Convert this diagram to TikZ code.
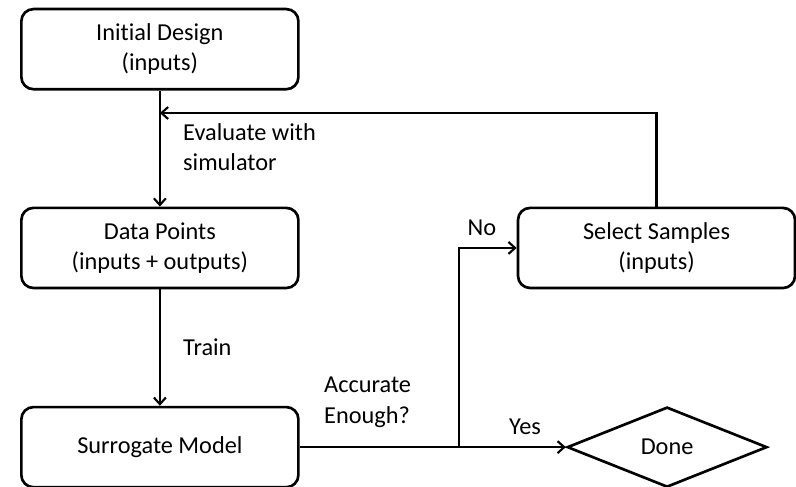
\documentclass[tikz,border=0pt]{standalone}
\usepackage{fontspec}
\setmainfont{Carlito}[Ligatures=NoCommon]
\usepackage{tikz}
\usetikzlibrary{arrows.meta, positioning, shapes.geometric}

\begin{document}
\begin{tikzpicture}[
    every node/.style={font=\fontsize{18.3}{23}\selectfont},
    stage/.style={draw, line width=2pt, rectangle, rounded corners=0.32cm, minimum height=2.12cm, minimum width=7.33cm, align=center},
    finish/.style={draw, line width=2pt, diamond, aspect=2.5, minimum width=5.29cm, minimum height=2.12cm, inner sep=0pt},
    note/.style={anchor=west, align=left, inner sep=0pt},
    link/.style={line width=2pt, -{Straight Barb[length=5pt, width=9pt, line width=1.6pt]}}
]
    \useasboundingbox (0, 0) rectangle (21.06, -12.86);

    % Stages
    \node[stage] (init) at (4.23, -1.30) {Initial Design\\(inputs)};
    \node[stage] (data) at (4.23, -6.56) {Data Points\\(inputs + outputs)};
    \node[stage] (surr) at (4.23, -11.83) {Surrogate Model};
    \node[stage] (select) at (17.37, -6.56) {Select Samples\\(inputs)};
    \node[finish] (done) at (17.65, -11.83) {Done};

    \coordinate (split) at (12.14, -11.83);
    \coordinate (join) at (4.23, -2.99);

    % Flow
    \draw[link] (init) -- (data);
    \draw[link] (data) -- (surr);
    \draw[link] (surr) -- (done);
    \draw[link] (split) |- (select);
    \draw[link] (select.north) |- (join);

    % Labels
    \node[note] (eval) at (4.84, -3.89) {Evaluate with\\simulator};
    \node[note] (train) at (4.84, -9.18) {Train};
    \node[note] (acc) at (8.57, -10.64) {Accurate\\Enough?};
    \node (no) at (12.75, -6.03) {No};
    \node (yes) at (13.89, -11.30) {Yes};

\end{tikzpicture}
\end{document}
